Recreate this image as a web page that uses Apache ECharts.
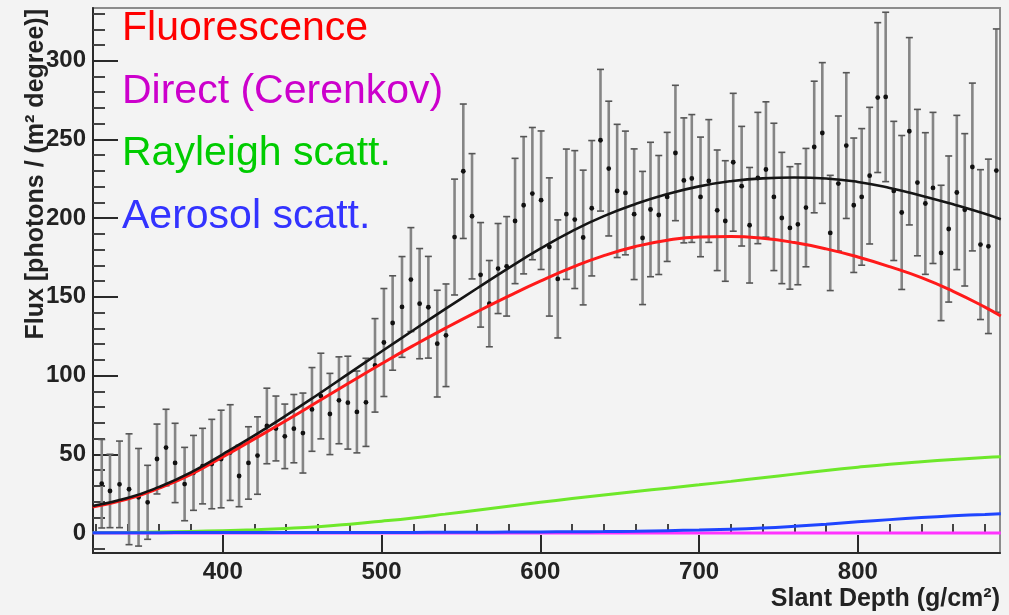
<!DOCTYPE html>
<html>
<head>
<meta charset="utf-8">
<script src="https://cdn.jsdelivr.net/npm/echarts@6/dist/echarts.min.js"></script>
<style>
  html, body { margin: 0; padding: 0; background: #f3f3f3; }
  #chart { width: 1009px; height: 615px; }
</style>
</head>
<body>
<div id="chart"></div>
<script>
// Measured shower profile: slant depth bins, flux and symmetric errors
const depth = [323.8, 329.0, 335.0, 341.0, 347.0, 352.7, 358.6, 364.3, 370.0, 376.0,
  381.6, 387.3, 393.1, 399.0, 404.7, 410.3, 416.2, 421.9, 427.8, 433.5,
  439.1, 444.8, 450.5, 456.2, 461.8, 467.5, 473.2, 478.8, 484.5, 490.2,
  495.9, 501.5, 507.0, 512.9, 518.5, 524.0, 529.5, 535.1, 540.6, 546.0,
  551.5, 557.0, 562.4, 567.9, 573.4, 578.8, 584.1, 589.5, 595.0, 600.5,
  605.7, 611.0, 616.4, 621.7, 627.0, 632.4, 637.9, 643.1, 648.4, 653.6,
  659.1, 664.4, 669.4, 674.6, 679.9, 685.1, 690.4, 695.4, 700.9, 706.1,
  711.4, 716.5, 721.5, 726.8, 731.8, 737.0, 742.1, 747.1, 752.1, 757.2,
  762.2, 767.3, 772.5, 777.6, 782.6, 787.7, 792.7, 797.4, 802.4, 807.4,
  812.5, 817.5, 822.6, 827.6, 832.4, 837.5, 842.5, 847.3, 852.4, 857.2,
  862.3, 867.3, 872.1, 877.2, 882.2, 887.2];
const flux = [31.3, 26.7, 30.9, 27.8, 22.7, 19.5, 47.0, 54.3, 44.5, 31.1,
  38.2, 42.5, 43.8, 47.0, 51.1, 36.2, 44.5, 49.2, 68.0, 66.4,
  61.4, 66.3, 63.5, 78.5, 87.0, 75.6, 84.3, 82.8, 76.9, 83.0,
  106.5, 121.0, 133.4, 143.6, 161.0, 145.7, 143.4, 120.3, 125.6, 188.0,
  229.8, 201.2, 164.0, 145.7, 168.0, 169.4, 198.2, 208.2, 215.6, 211.4,
  181.7, 161.4, 202.5, 199.1, 187.7, 206.3, 249.5, 231.5, 217.3, 216.0,
  202.5, 187.4, 205.5, 202.0, 213.5, 241.4, 224.0, 225.2, 213.5, 223.6,
  205.0, 198.2, 235.5, 220.3, 195.5, 225.5, 230.9, 213.5, 200.1, 193.8,
  196.1, 206.7, 245.2, 254.1, 190.6, 222.0, 246.1, 208.2, 213.5, 227.0,
  276.6, 277.0, 217.3, 203.6, 255.2, 222.6, 209.3, 219.2, 177.9, 193.1,
  216.3, 205.3, 232.5, 183.2, 182.1, 230.2];
const fluxErr = [28.1, 23.3, 27.5, 35.2, 31.0, 23.5, 22.2, 24.3, 25.2, 23.3,
  23.8, 24.0, 28.4, 31.0, 30.4, 19.5, 23.0, 24.6, 24.0, 20.6,
  20.5, 21.7, 25.4, 26.6, 27.2, 25.8, 27.6, 29.5, 26.0, 28.0,
  29.7, 34.3, 30.0, 32.0, 33.0, 35.0, 32.3, 33.9, 32.6, 36.8,
  42.7, 39.8, 33.2, 27.4, 28.6, 31.6, 39.8, 43.6, 42.0, 44.0,
  43.9, 37.5, 41.4, 43.8, 42.8, 43.0, 45.0, 42.8, 42.3, 39.3,
  41.5, 42.3, 42.7, 37.8, 41.0, 43.0, 39.7, 40.6, 38.0, 39.0,
  38.3, 38.3, 43.8, 38.0, 36.7, 41.7, 43.0, 46.8, 41.7, 38.9,
  38.4, 37.6, 41.8, 44.7, 36.6, 42.9, 46.3, 42.7, 43.4, 43.4,
  47.6, 53.8, 44.2, 48.9, 59.5, 46.5, 45.0, 48.0, 43.0, 46.4,
  49.0, 48.4, 53.3, 47.6, 55.4, 90.0];

// Fitted light components sampled along slant depth
const fitDepth = [318, 340, 360, 380, 400, 420, 440, 460, 480, 500,
  520, 540, 560, 580, 600, 620, 640, 660, 680, 700,
  720, 740, 760, 780, 800, 820, 840, 860, 880, 890];
const totalFit = [17.2, 22.2, 29.3, 38.5, 50.0, 62.0, 74.7, 88.0, 101.7, 115.3,
  128.8, 142.2, 155.3, 168.3, 180.6, 191.8, 201.3, 209.0, 215.3, 220.2,
  223.5, 225.3, 225.8, 225.2, 223.0, 219.2, 214.3, 208.8, 202.8, 199.3];
const fluorescence = [16.5, 21.5, 28.5, 37.3, 48.3, 59.8, 71.5, 83.5, 95.6, 107.5,
  119.0, 130.0, 140.5, 150.5, 160.0, 168.7, 176.2, 182.0, 186.0, 188.0,
  188.3, 187.2, 184.5, 180.5, 175.3, 169.2, 162.2, 153.5, 143.5, 137.8];
const directCerenkov = [0, 0, 0, 0, 0, 0, 0, 0, 0, 0,
  0, 0, 0, 0, 0, 0, 0, 0, 0, 0,
  0, 0, 0, 0, 0, 0, 0, 0, 0, 0];
const rayleigh = [0.1, 0.3, 0.6, 1.0, 1.5, 2.1, 2.9, 4.0, 5.6, 7.5,
  9.6, 12.0, 14.5, 17.0, 19.5, 21.9, 24.2, 26.4, 28.5, 30.6,
  32.8, 35.1, 37.4, 39.7, 41.8, 43.7, 45.3, 46.7, 47.9, 48.4];
const aerosol = [0.2, 0.2, 0.2, 0.3, 0.3, 0.3, 0.3, 0.3, 0.4, 0.4,
  0.4, 0.5, 0.5, 0.6, 0.7, 0.8, 0.9, 1.1, 1.5, 1.9,
  2.4, 3.2, 4.3, 5.6, 7.1, 8.5, 9.8, 10.9, 11.8, 12.3];

const componentNames = ['Fluorescence', 'Direct (Cerenkov)', 'Rayleigh scatt.', 'Aerosol scatt.'];
const xTicks = [400, 500, 600, 700, 800];
const yTicks = [0, 50, 100, 150, 200, 250, 300];
const xTitle = 'Slant Depth (g/cm²)';
const yTitle = 'Flux [photons / (m² degree)]';

const X_MIN = 318.3, X_MAX = 889.5;
const Y_MIN = -12.7, Y_MAX = 333.5;

// minor tick positions (every 20 in depth, every 10 in flux)
const xMinor = [];
for (let v = 320; v <= X_MAX; v += 20) if (v % 100 !== 0) xMinor.push(v);
const yMinor = [];
for (let v = -10; v <= Y_MAX; v += 10) if (v % 50 !== 0) yMinor.push(v);

const pairs = (ys) => fitDepth.map((x, i) => [x, ys[i]]);

const axisDark = '#2a2a2a';
const labelFont = { fontSize: 24, fontWeight: 'bold', color: '#222', fontFamily: 'Liberation Sans, Arial, sans-serif' };

const chart = echarts.init(document.getElementById('chart'), null, { renderer: 'canvas' });

const lineSeries = (name, data, color, width, z) => ({
  name, type: 'line', data, smooth: 0.5, showSymbol: false, symbol: 'none',
  xAxisIndex: 0, yAxisIndex: 0, clip: true, silent: true, z,
  lineStyle: { color, width }
});

chart.setOption({
  animation: false,
  backgroundColor: '#f3f3f3',
  grid: {
    left: 93, top: 8, width: 907, height: 545,
    show: true, borderColor: '#8c8c8c', borderWidth: 2, backgroundColor: 'transparent'
  },
  xAxis: [
    {
      type: 'value', min: X_MIN, max: X_MAX, position: 'bottom',
      axisLine: { show: true, onZero: false, lineStyle: { color: axisDark, width: 2 } },
      axisTick: { show: true, inside: true, length: 18, customValues: xTicks, lineStyle: { color: axisDark, width: 2 } },
      axisLabel: Object.assign({ customValues: xTicks, margin: 7 }, labelFont),
      splitLine: { show: false }
    },
    {
      type: 'value', min: X_MIN, max: X_MAX, position: 'bottom',
      axisLine: { show: false },
      axisTick: { show: true, inside: true, length: 9, customValues: xMinor, lineStyle: { color: '#444', width: 2 } },
      axisLabel: { show: false },
      splitLine: { show: false }
    }
  ],
  yAxis: [
    {
      type: 'value', min: Y_MIN, max: Y_MAX, position: 'left',
      axisLine: { show: true, onZero: false, lineStyle: { color: axisDark, width: 2 } },
      axisTick: { show: true, inside: true, length: 25, customValues: yTicks, lineStyle: { color: axisDark, width: 2 } },
      axisLabel: Object.assign({ customValues: yTicks, margin: 7 }, labelFont),
      splitLine: { show: false }
    },
    {
      type: 'value', min: Y_MIN, max: Y_MAX, position: 'left',
      axisLine: { show: false },
      axisTick: { show: true, inside: true, length: 12, customValues: yMinor, lineStyle: { color: '#444', width: 2 } },
      axisLabel: { show: false },
      splitLine: { show: false }
    }
  ],
  series: [
    {
      name: 'data', type: 'custom', xAxisIndex: 0, yAxisIndex: 0, clip: true, silent: true, z: 2,
      data: depth.map((d, i) => [d, flux[i], fluxErr[i]]),
      encode: { x: 0, y: 1 },
      renderItem(params, api) {
        const x = api.value(0), y = api.value(1), e = api.value(2);
        const lo = api.coord([x, y - e]);
        const hi = api.coord([x, y + e]);
        const c = api.coord([x, y]);
        const cap = 3.5;
        return {
          type: 'group',
          children: [
            { type: 'line', shape: { x1: lo[0], y1: lo[1], x2: hi[0], y2: hi[1] }, style: { stroke: '#858585', lineWidth: 2.6 } },
            { type: 'line', shape: { x1: lo[0] - cap, y1: lo[1], x2: lo[0] + cap, y2: lo[1] }, style: { stroke: '#555', lineWidth: 1.6 } },
            { type: 'line', shape: { x1: hi[0] - cap, y1: hi[1], x2: hi[0] + cap, y2: hi[1] }, style: { stroke: '#555', lineWidth: 1.6 } },
            { type: 'circle', shape: { cx: c[0], cy: c[1], r: 2.4 }, style: { fill: '#111' } }
          ]
        };
      }
    },
    lineSeries(componentNames[1], pairs(directCerenkov), '#ff33ff', 3, 3),
    lineSeries(componentNames[2], pairs(rayleigh), '#6ee82a', 3, 4),
    lineSeries(componentNames[3], pairs(aerosol), '#1f45ff', 3, 5),
    lineSeries(componentNames[0], pairs(fluorescence), '#ff1a1a', 3, 6),
    lineSeries('Total', pairs(totalFit), '#151515', 2.6, 7)
  ],
  graphic: [
    ...componentNames.map((name, i) => ({
      type: 'text', left: 122, top: 8 + i * 62.7, z: 20, silent: true,
      style: {
        text: name, fontSize: 41, fontFamily: 'Liberation Sans, Arial, sans-serif',
        fill: ['#ff0000', '#cc00cc', '#00cc00', '#3333ff'][i]
      }
    })),
    {
      type: 'text', x: 36, y: 9, rotation: Math.PI / 2, z: 20, silent: true,
      style: {
        text: yTitle, fontSize: 25, fontWeight: 'bold', fill: '#222',
        fontFamily: 'Liberation Sans, Arial, sans-serif', align: 'right', verticalAlign: 'middle'
      }
    },
    {
      type: 'text', x: 1000, y: 599, z: 20, silent: true,
      style: {
        text: xTitle, fontSize: 25, fontWeight: 'bold', fill: '#222',
        fontFamily: 'Liberation Sans, Arial, sans-serif', align: 'right', verticalAlign: 'middle'
      }
    }
  ]
});
</script>
</body>
</html>
